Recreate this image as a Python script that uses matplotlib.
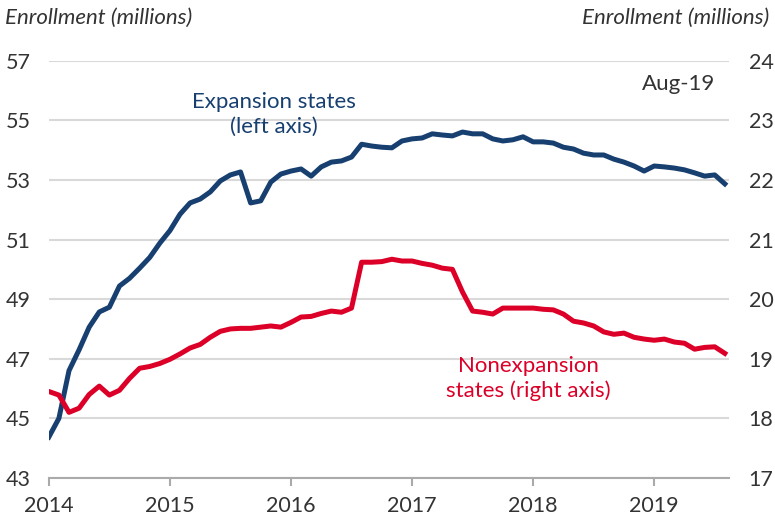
import numpy as np
import matplotlib
matplotlib.use("Agg")
import matplotlib.pyplot as plt

# Monthly Medicaid/CHIP enrollment, Jan 2014 - Aug 2019 (millions)
expansion = [44.37, 45.0, 46.6, 47.3, 48.06, 48.57, 48.73, 49.44, 49.7, 50.04,
             50.4, 50.88, 51.3, 51.85, 52.23, 52.36, 52.6, 52.97, 53.17, 53.27,
             52.23, 52.3, 52.93, 53.2, 53.3, 53.37, 53.13, 53.44, 53.6, 53.64,
             53.77, 54.2, 54.14, 54.1, 54.08, 54.31, 54.38, 54.41, 54.55, 54.51,
             54.48, 54.61, 54.55, 54.55, 54.38, 54.31, 54.35, 54.45, 54.28, 54.28,
             54.24, 54.1, 54.04, 53.9, 53.84, 53.84, 53.7, 53.6, 53.47, 53.3,
             53.47, 53.44, 53.4, 53.34, 53.24, 53.13, 53.17, 52.87]
nonexpansion = [18.45, 18.39, 18.1, 18.17, 18.4, 18.54, 18.39, 18.47, 18.67, 18.84,
                18.87, 18.92, 18.99, 19.08, 19.18, 19.24, 19.36, 19.46, 19.5, 19.51,
                19.51, 19.53, 19.55, 19.53, 19.61, 19.7, 19.71, 19.76, 19.8, 19.78,
                19.85, 20.62, 20.62, 20.63, 20.67, 20.64, 20.64, 20.6, 20.57, 20.52,
                20.5, 20.12, 19.8, 19.78, 19.75, 19.85, 19.85, 19.85, 19.85, 19.83,
                19.82, 19.75, 19.63, 19.6, 19.55, 19.45, 19.41, 19.43, 19.36, 19.33,
                19.31, 19.33, 19.28, 19.26, 19.16, 19.19, 19.2, 19.09]
years = [2014, 2015, 2016, 2017, 2018, 2019]
left_ticks = [43, 45, 47, 49, 51, 53, 55, 57]
right_ticks = [17, 18, 19, 20, 21, 22, 23, 24]

months = 2014 + np.arange(len(expansion)) / 12.0

BLUE = "#173f70"
RED = "#dc0028"
TEXT = "#333333"
GRID = "#d9d9d9"

plt.rcParams["font.family"] = ["Lato", "DejaVu Sans"]

fig = plt.figure(figsize=(7.75, 5.2), dpi=100)
ax = fig.add_axes([0.063, 0.081, 0.878, 0.802])
ax2 = ax.twinx()

ax.plot(months, expansion, color=BLUE, lw=3.6, solid_joinstyle="round", zorder=3)
ax2.plot(months, nonexpansion, color=RED, lw=3.6, solid_joinstyle="round", zorder=3)

ax.set_xlim(2014, 2019.62)
ax.set_ylim(43, 57)
ax2.set_ylim(17, 24)

ax.set_yticks(left_ticks)
ax2.set_yticks(right_ticks)
ax.set_xticks(years)
ax.set_xticklabels([str(y) for y in years])

ax.grid(axis="y", color=GRID, lw=1.5)
ax.set_axisbelow(True)

for a in (ax, ax2):
    for side in ("top", "left", "right", "bottom"):
        a.spines[side].set_visible(False)
ax.spines["bottom"].set_visible(True)
ax.spines["bottom"].set_color("#aaaaaa")
ax.spines["bottom"].set_linewidth(1.5)

ax.tick_params(axis="x", length=6, width=1.5, color="#aaaaaa", pad=7,
               labelsize=15.5, labelcolor=TEXT)
ax.tick_params(axis="y", length=0, pad=13, labelsize=15.5, labelcolor=TEXT)
ax2.tick_params(axis="y", length=0, pad=14, labelsize=15.5, labelcolor=TEXT)

fig.text(0.007, 0.966, "Enrollment (millions)", style="italic", fontsize=16,
         color=TEXT, ha="left", va="center")
fig.text(0.992, 0.966, "Enrollment (millions)", style="italic", fontsize=16,
         color=TEXT, ha="right", va="center")

ax.text(2015.86, 55.2, "Expansion states\n(left axis)", color=BLUE, fontsize=16,
        ha="center", va="center", linespacing=1.3)
ax.text(2019.2, 56.23, "Aug-19", color=TEXT, fontsize=16, ha="center", va="center")
ax2.text(2017.96, 18.67, "Nonexpansion\nstates (right axis)", color=RED, fontsize=16,
         ha="center", va="center", linespacing=1.3)

fig.savefig("out.png", dpi=100)
